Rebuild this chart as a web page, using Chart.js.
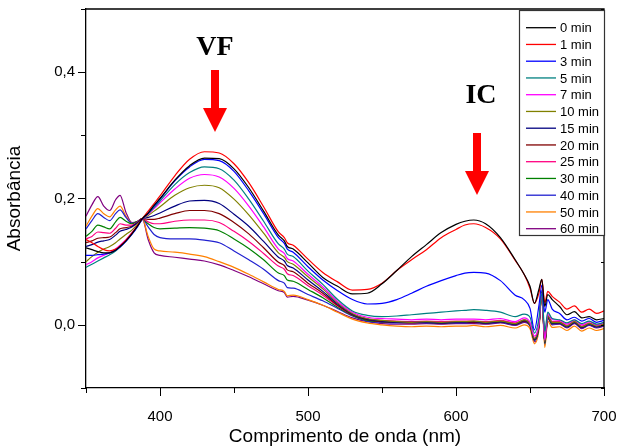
<!DOCTYPE html>
<html>
<head>
<meta charset="utf-8">
<script src="https://cdn.jsdelivr.net/npm/chart.js@4.4.0/dist/chart.umd.min.js"></script>
<style>
  html, body { margin: 0; padding: 0; background: #fff; }
  #wrap { width: 619px; height: 447px; }
</style>
</head>
<body>
<div id="wrap"><canvas id="spectra" width="619" height="447"></canvas></div>
<script>
// wavelengths (nm)
const wavelengths = [350,354,358,362,366,370,373,377,381,385,388,
  392,396,400,410,420,430,440,450,460,470,480,
  484,486,490,500,510,520,530,540,
  550,560,570,580,590,600,606,612,620,630,
  640,646,650,653,656,658,660,662,665,670,
  675,680,685,690,695,700];

const seriesLabels = ['0 min','1 min','3 min','5 min','7 min','10 min','15 min','20 min','25 min','30 min','40 min','50 min','60 min'];
const seriesColors = ['#000000','#ff0000','#0000ff','#008080','#ff00ff','#808000','#000080','#800000','#ff0080','#008000','#2020d0','#ff8000','#800080'];

const abs0 = [0.122,0.119,0.116,0.114,0.114,0.118,0.124,0.133,0.144,0.157,0.168,
  0.177,0.189,0.200,0.229,0.252,0.264,0.263,0.247,0.217,0.180,0.142,
  0.133,0.124,0.120,0.098,0.075,0.061,0.049,0.050,
  0.065,0.086,0.108,0.127,0.146,0.159,0.164,0.166,0.160,0.138,
  0.103,0.080,0.061,0.034,0.056,0.072,0.029,0.048,0.040,0.029,
  0.016,0.021,0.011,0.013,0.008,0.010];
const abs1 = [0.135,0.130,0.124,0.119,0.117,0.120,0.125,0.134,0.145,0.158,0.168,
  0.180,0.192,0.204,0.236,0.262,0.274,0.272,0.255,0.225,0.187,0.147,
  0.138,0.130,0.126,0.104,0.083,0.068,0.055,0.056,
  0.066,0.086,0.103,0.119,0.138,0.151,0.158,0.160,0.154,0.136,
  0.102,0.080,0.058,0.034,0.050,0.072,0.035,0.053,0.045,0.036,
  0.025,0.030,0.020,0.025,0.018,0.022];
const abs3 = [0.110,0.110,0.111,0.112,0.114,0.118,0.123,0.132,0.143,0.156,0.167,
  0.177,0.188,0.199,0.228,0.250,0.262,0.260,0.243,0.212,0.176,0.138,
  0.129,0.120,0.115,0.092,0.071,0.054,0.040,0.033,
  0.034,0.040,0.050,0.061,0.070,0.078,0.082,0.083,0.082,0.070,
  0.047,0.040,0.026,-0.008,0.030,0.063,0.020,0.040,0.025,0.018,
  0.008,0.012,0.006,0.010,0.004,0.007];
const abs5 = [0.091,0.096,0.101,0.106,0.111,0.117,0.123,0.133,0.144,0.157,0.167,
  0.176,0.186,0.196,0.222,0.241,0.250,0.247,0.229,0.199,0.164,0.128,
  0.120,0.112,0.108,0.085,0.064,0.040,0.022,0.015,
  0.013,0.014,0.016,0.018,0.020,0.022,0.023,0.024,0.023,0.020,
  0.013,0.017,0.012,-0.013,0.010,0.050,-0.010,0.020,0.010,0.008,
  0.003,0.008,0.002,0.006,0.001,0.004];
const abs7 = [0.095,0.100,0.106,0.110,0.114,0.120,0.126,0.135,0.146,0.158,0.167,
  0.175,0.184,0.193,0.215,0.232,0.238,0.234,0.216,0.188,0.155,0.120,
  0.113,0.105,0.101,0.080,0.060,0.037,0.020,0.012,
  0.010,0.009,0.008,0.009,0.008,0.009,0.009,0.009,0.008,0.010,
  0.005,0.011,0.004,-0.018,0.002,0.050,-0.024,0.018,0.008,0.007,
  0.001,0.008,0.000,0.005,0.000,0.004];
const abs10 = [0.100,0.108,0.115,0.120,0.124,0.130,0.136,0.143,0.150,0.160,0.167,
  0.173,0.180,0.187,0.205,0.217,0.221,0.217,0.199,0.174,0.145,0.114,
  0.107,0.100,0.096,0.076,0.057,0.035,0.018,0.010,
  0.007,0.005,0.004,0.005,0.004,0.005,0.005,0.006,0.004,0.006,
  0.002,0.008,0.001,-0.022,-0.001,0.048,-0.027,0.014,0.004,0.004,
  -0.002,0.005,-0.003,0.002,-0.002,0.001];
const abs15 = [0.124,0.127,0.131,0.133,0.135,0.142,0.148,0.151,0.155,0.162,0.168,
  0.170,0.173,0.177,0.188,0.196,0.197,0.192,0.175,0.156,0.132,0.107,
  0.101,0.094,0.090,0.071,0.053,0.033,0.017,0.009,
  0.006,0.004,0.004,0.004,0.003,0.004,0.004,0.005,0.003,0.005,
  0.001,0.007,0.000,-0.023,-0.002,0.050,-0.028,0.013,0.003,0.003,
  -0.003,0.004,-0.004,0.001,-0.003,0.000];
const abs20 = [0.130,0.133,0.137,0.138,0.139,0.146,0.152,0.154,0.156,0.162,0.168,
  0.167,0.167,0.169,0.176,0.181,0.181,0.176,0.162,0.144,0.122,0.099,
  0.094,0.087,0.084,0.066,0.050,0.031,0.016,0.008,
  0.005,0.004,0.003,0.004,0.003,0.004,0.004,0.004,0.003,0.005,
  0.001,0.006,0.000,-0.023,-0.002,0.048,-0.028,0.012,0.003,0.003,
  -0.003,0.004,-0.004,0.001,-0.003,0.000];
const abs25 = [0.136,0.140,0.147,0.146,0.145,0.153,0.160,0.158,0.158,0.163,0.168,
  0.163,0.160,0.160,0.164,0.166,0.166,0.162,0.148,0.132,0.113,0.093,
  0.088,0.081,0.078,0.062,0.047,0.030,0.016,0.009,
  0.007,0.006,0.005,0.006,0.005,0.006,0.006,0.006,0.005,0.007,
  0.003,0.008,0.002,-0.021,0.000,0.050,-0.026,0.015,0.005,0.005,
  -0.001,0.006,-0.002,0.003,-0.001,0.002];
const abs30 = [0.140,0.148,0.158,0.155,0.152,0.163,0.170,0.164,0.160,0.164,0.168,
  0.160,0.154,0.152,0.153,0.154,0.153,0.149,0.136,0.121,0.103,0.082,
  0.078,0.071,0.069,0.056,0.043,0.028,0.015,0.007,
  0.005,0.004,0.004,0.004,0.003,0.004,0.004,0.005,0.003,0.005,
  0.001,0.006,0.000,-0.024,-0.003,0.052,-0.029,0.012,0.002,0.003,
  -0.003,0.004,-0.004,0.001,-0.003,0.000];
const abs40 = [0.152,0.165,0.176,0.170,0.165,0.176,0.182,0.170,0.161,0.164,0.168,
  0.155,0.143,0.138,0.136,0.136,0.134,0.130,0.117,0.103,0.088,0.070,
  0.066,0.059,0.058,0.048,0.038,0.026,0.014,0.006,
  0.004,0.003,0.003,0.003,0.002,0.003,0.003,0.004,0.002,0.004,
  0.000,0.005,-0.001,-0.025,-0.004,0.055,-0.030,0.011,0.001,0.002,
  -0.004,0.003,-0.005,0.000,-0.004,-0.001];
const abs50 = [0.156,0.172,0.184,0.176,0.171,0.182,0.188,0.172,0.161,0.164,0.168,
  0.140,0.120,0.117,0.115,0.112,0.108,0.100,0.091,0.080,0.068,0.056,
  0.053,0.046,0.047,0.040,0.031,0.020,0.009,0.003,
  0.000,-0.002,-0.003,-0.002,-0.003,-0.002,-0.002,-0.001,-0.003,-0.001,
  -0.005,0.000,-0.006,-0.030,-0.009,0.045,-0.036,0.006,-0.004,-0.003,
  -0.009,-0.002,-0.010,-0.005,-0.009,-0.006];
const abs60 = [0.172,0.190,0.203,0.188,0.181,0.198,0.205,0.178,0.162,0.164,0.168,
  0.135,0.114,0.110,0.107,0.104,0.101,0.095,0.086,0.076,0.065,0.054,
  0.051,0.044,0.045,0.039,0.031,0.021,0.011,0.005,
  0.002,0.001,0.001,0.002,0.001,0.002,0.002,0.002,0.001,0.003,
  -0.001,0.004,-0.002,-0.027,-0.005,0.050,-0.032,0.010,0.000,0.001,
  -0.005,0.002,-0.006,-0.001,-0.005,-0.002];

const allSeries = [abs0, abs1, abs3, abs5, abs7, abs10, abs15, abs20, abs25, abs30, abs40, abs50, abs60];

const yMajor = [0, 2, 4]; // tenths that get a label

const datasets = allSeries.map((vals, i) => ({
  label: seriesLabels[i],
  data: vals.map((v, k) => ({ x: wavelengths[k], y: v })),
  borderColor: seriesColors[i],
  borderWidth: 1.2,
  pointRadius: 0,
  cubicInterpolationMode: 'monotone',
  fill: false
}));

const FONT = 'Liberation Sans, Arial, sans-serif';

// axis ticks, frame, legend box and the VF / IC markers
const extras = {
  id: 'extras',
  afterDraw(chart) {
    const ctx = chart.ctx;
    const a = chart.chartArea;
    const xs = chart.scales.x, ys = chart.scales.y;
    ctx.save();
    ctx.strokeStyle = '#000';
    ctx.lineWidth = 1.3;
    ctx.beginPath();
    ctx.moveTo(a.left, a.top); ctx.lineTo(a.right, a.top); ctx.lineTo(a.right, a.bottom);
    ctx.stroke();

    ctx.lineWidth = 1;
    for (let v = 350; v <= 700; v += 50) {
      const px = Math.round(xs.getPixelForValue(v)) + 0.5;
      const len = v % 100 === 0 ? 8 : 5;
      ctx.beginPath(); ctx.moveTo(px, a.bottom); ctx.lineTo(px, a.bottom + len); ctx.stroke();
    }
    for (let t = -1; t <= 5; t++) {
      const py = Math.round(ys.getPixelForValue(t / 10)) + 0.5;
      const len = yMajor.includes(t) ? 8 : 5;
      ctx.beginPath(); ctx.moveTo(a.left - len, py); ctx.lineTo(a.left, py); ctx.stroke();
      ctx.beginPath(); ctx.moveTo(a.right - 3, py); ctx.lineTo(a.right, py); ctx.stroke();
    }

    // legend
    ctx.fillStyle = '#fff';
    ctx.fillRect(519, 10, 86, 226);
    ctx.strokeStyle = '#333';
    ctx.lineWidth = 1.2;
    ctx.strokeRect(519.5, 10.5, 85, 225);
    ctx.font = '13px ' + FONT;
    ctx.textBaseline = 'middle';
    ctx.textAlign = 'left';
    chart.data.datasets.forEach((ds, i) => {
      const y = 27.7 + i * 16.75;
      ctx.strokeStyle = ds.borderColor;
      ctx.lineWidth = 1.3;
      ctx.beginPath(); ctx.moveTo(526, y); ctx.lineTo(556, y); ctx.stroke();
      ctx.fillStyle = '#000';
      ctx.fillText(ds.label, 560, y + 1);
    });

    // band labels and arrows
    ctx.fillStyle = '#000';
    ctx.font = 'bold 28px Liberation Serif, Times New Roman, serif';
    ctx.textAlign = 'center';
    ctx.textBaseline = 'alphabetic';
    ctx.fillText('VF', 215, 55);
    ctx.fillText('IC', 481, 103);
    ctx.fillStyle = '#ff0000';
    const arrow = (cx, top, headTop, tip) => {
      ctx.fillRect(cx - 4, top, 8, headTop - top + 1);
      ctx.beginPath();
      ctx.moveTo(cx - 12, headTop); ctx.lineTo(cx + 12, headTop); ctx.lineTo(cx, tip);
      ctx.closePath(); ctx.fill();
    };
    arrow(215, 70, 108, 132);
    arrow(477, 133, 171, 195);
    ctx.restore();
  }
};

new Chart(document.getElementById('spectra').getContext('2d'), {
  type: 'line',
  data: { datasets },
  options: {
    responsive: false,
    animation: false,
    devicePixelRatio: 1,
    layout: { padding: { left: 0, top: 9, right: 15, bottom: 0 } },
    plugins: { legend: { display: false }, tooltip: { enabled: false } },
    scales: {
      x: {
        type: 'linear',
        min: 350, max: 700,
        grid: { display: true, drawOnChartArea: false, drawTicks: true, tickLength: 8, color: 'rgba(0,0,0,0)' },
        border: { display: true, color: '#000', width: 1.3 },
        ticks: {
          stepSize: 50,
          autoSkip: false,
          maxRotation: 0,
          padding: 12,
          color: '#000',
          font: { family: FONT, size: 15 },
          callback: v => (v % 100 === 0 ? String(v) : '')
        },
        title: {
          display: true,
          text: 'Comprimento de onda (nm)',
          color: '#000',
          font: { family: FONT, size: 19, lineHeight: 1.1 },
          padding: { top: 2, bottom: 0 }
        },
        afterFit: s => { s.height = 59; s.paddingLeft = 0; s.paddingRight = 0; }
      },
      y: {
        type: 'linear',
        min: -0.1, max: 0.5,
        grid: { display: true, drawOnChartArea: false, drawTicks: true, tickLength: 8, color: 'rgba(0,0,0,0)' },
        border: { display: true, color: '#000', width: 1.3 },
        ticks: {
          stepSize: 0.1,
          autoSkip: false,
          padding: 3,
          color: '#000',
          font: { family: FONT, size: 15 },
          callback: v => {
            const t = Math.round(v * 10);
            return yMajor.includes(t) ? (t / 10).toFixed(1).replace('.', ',') : '';
          }
        },
        title: {
          display: true,
          text: 'Absorbância',
          color: '#000',
          font: { family: FONT, size: 19 },
          padding: { top: 3, bottom: 0 }
        },
        afterFit: s => { s.width = 86; s.paddingTop = 0; s.paddingBottom = 0; }
      }
    }
  },
  plugins: [extras]
});
</script>
</body>
</html>
